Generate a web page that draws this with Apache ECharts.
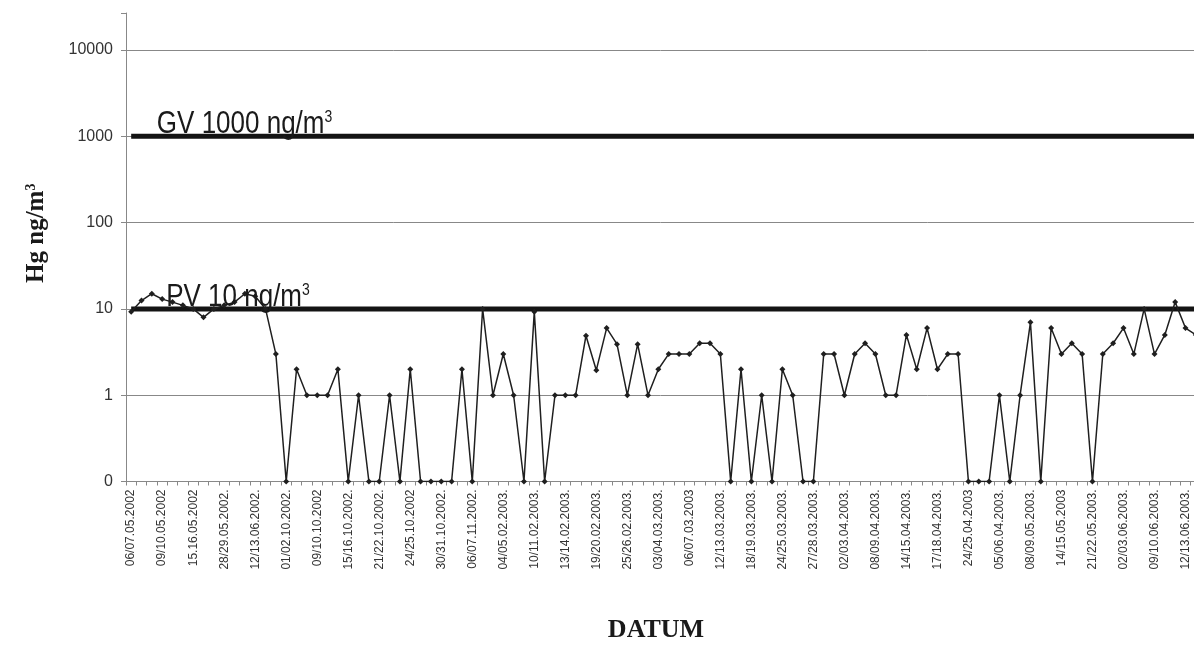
<!DOCTYPE html>
<html><head><meta charset="utf-8">
<script src="https://cdn.jsdelivr.net/npm/echarts@6/dist/echarts.min.js"></script>
<style>html,body{margin:0;padding:0;background:#fff}#c{width:1194px;height:657px}</style>
</head><body><div id="c"></div><script>
// Date labels shown on every third sampling date
const tickLabels = [
  '06/07.05.2002','09/10.05.2002','15.16.05.2002','28/29.05.2002.','12/13.06.2002.',
  '01/02.10.2002.','09/10.10.2002','15/16.10.2002.','21/22.10.2002.','24/25.10.2002',
  '30/31.10.2002.','06/07.11.2002.','04/05.02.2003.','10/11.02.2003.','13/14.02.2003.',
  '19/20.02.2003.','25/26.02.2003.','03/04.03.2003.','06/07.03.2003','12/13.03.2003.',
  '18/19.03.2003.','24/25.03.2003.','27/28.03.2003.','02/03.04.2003.','08/09.04.2003.',
  '14/15.04.2003.','17/18.04.2003.','24/25.04.2003','05/06.04.2003.','08/09.05.2003.',
  '14/15.05.2003','21/22.05.2003.','02/03.06.2003.','09/10.06.2003.','12/13.06.2003.'
];
// Hg concentration (ng/m3) per sampling date; 0 = below detection (drawn on the "0" line)
const hgValues = [
  9.3, 12.5, 15, 13, 12, 11, 10, 8, 10, 11,
  12, 15, 14, 10, 3, 0, 2, 1, 1, 1,
  2, 0, 1, 0, 0, 1, 0, 2, 0, 0,
  0, 0, 2, 0, 10, 1, 3, 1, 0, 9.3,
  0, 1, 1, 1, 4.9, 1.95, 6, 3.9, 1, 3.9,
  1, 2, 3, 3, 3, 4, 4, 3, 0, 2,
  0, 1, 0, 2, 1, 0, 0, 3, 3, 1,
  3, 4, 3, 1, 1, 5, 2, 6, 2, 3,
  3, 0, 0, 0, 1, 0, 1, 7, 0, 6,
  3, 4, 3, 0, 3, 4, 6, 3, 10, 3,
  5, 12, 6, 5
];
const categories = hgValues.map((_, i) => (i % 3 === 0 && tickLabels[i / 3]) ? tickLabels[i / 3] : '');
const gvLimit = 1000;   // GV 1000 ng/m3
const pvLimit = 10;     // PV 10 ng/m3
const limitTexts = ['GV 1000 ng/m', 'PV 10 ng/m'];
const yTicks = [0.1, 1, 10, 100, 1000, 10000];
const axisFloor = 0.1;  // the axis "0" line

const sans = "'Liberation Sans', Arial, sans-serif";
const serif = "'Liberation Serif', 'Times New Roman', serif";

const chart = echarts.init(document.getElementById('c'), null, {renderer: 'canvas'});
chart.setOption({
  backgroundColor: '#ffffff',
  animation: false,
  grid: {left: 126, width: 1075, top: 13, height: 468.5, containLabel: false, outerBoundsMode: 'none'},
  xAxis: {
    type: 'category', data: categories, boundaryGap: true,
    name: 'DATUM', nameLocation: 'middle', nameGap: 136,
    nameTextStyle: {fontFamily: serif, fontWeight: 'bold', fontSize: 26, color: '#1a1a1a', padding: [0, 15, 0, 0]},
    axisLine: {lineStyle: {color: '#888', width: 1}},
    axisTick: {show: true, interval: 0, length: 4, lineStyle: {color: '#888'}},
    axisLabel: {interval: 2, rotate: 90, margin: 8, fontFamily: sans, fontSize: 12, color: '#333'},
    splitLine: {show: false}
  },
  yAxis: {
    type: 'log', logBase: 10, min: yTicks[0], max: 26900,
    name: '{a|Hg ng/m}{s|3}', nameLocation: 'middle', nameRotate: 90, nameGap: 77,
    nameTextStyle: {padding: [0, 0, 0, 28], rich: {
      a: {fontFamily: serif, fontWeight: 'bold', fontSize: 25, color: '#1a1a1a'},
      s: {fontFamily: serif, fontWeight: 'bold', fontSize: 14, color: '#1a1a1a', verticalAlign: 'top'}
    }},
    axisLine: {show: true, lineStyle: {color: '#888', width: 1}},
    axisTick: {show: true, length: 5, lineStyle: {color: '#888'}},
    axisLabel: {
      margin: 13, fontFamily: sans, fontSize: 16, color: '#333',
      formatter: (v) => {
        const l = Math.log10(v);
        if (Math.abs(l - Math.round(l)) > 1e-6) return '';
        return v <= axisFloor * 1.0001 ? '0' : String(Math.round(v));
      }
    },
    splitLine: {show: true, lineStyle: {color: ['#999', '#888', '#888', '#888', '#888', '#888', 'rgba(0,0,0,0)'], width: 1}}
  },
  series: [
    {
      name: 'GV', type: 'line', data: categories.map(() => gvLimit),
      symbol: 'none', silent: true, z: 3,
      lineStyle: {color: '#141414', width: 5}
    },
    {
      name: 'PV', type: 'line', data: categories.map(() => pvLimit),
      symbol: 'none', silent: true, z: 3,
      lineStyle: {color: '#141414', width: 5}
    },
    {
      name: 'Hg', type: 'line', data: hgValues.map(v => v > 0 ? v : axisFloor),
      symbol: 'diamond', symbolSize: 6, showAllSymbol: true, z: 4,
      lineStyle: {color: '#1f1f1f', width: 1.5},
      itemStyle: {color: '#1f1f1f'}
    }
  ]
});

// Limit captions, anchored to the limit lines through the chart's own coordinate system
const anchors = [[2, gvLimit, 5], [3, pvLimit, 4]];
chart.setOption({
  graphic: anchors.map(([cat, val, dx], k) => {
    const p = chart.convertToPixel({xAxisIndex: 0, yAxisIndex: 0}, [cat, val]);
    return {
      type: 'text', id: 'limit' + k, x: p[0] + dx, y: p[1] + 4, scaleY: 1.2, z: 10, silent: true,
      style: {
        text: '{b|' + limitTexts[k] + '}{s|3}', verticalAlign: 'bottom', align: 'left',
        rich: {
          b: {fontFamily: sans, fontSize: 26, fill: '#1a1a1a', lineHeight: 26},
          s: {fontFamily: sans, fontSize: 14, fill: '#1a1a1a', verticalAlign: 'top', lineHeight: 26}
        }
      }
    };
  })
});
</script></body></html>
